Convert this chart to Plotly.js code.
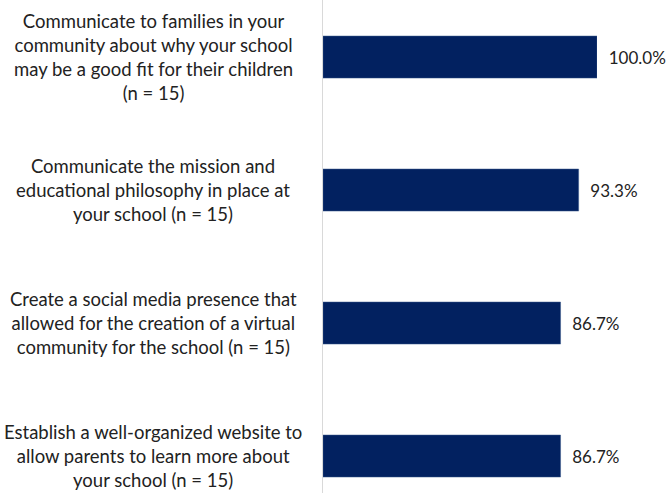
<!DOCTYPE html>
<html>
<head>
<meta charset="utf-8">
<script src="https://cdn.plot.ly/plotly-3.0.1.min.js"></script>
<style>html,body{margin:0;padding:0;background:#fff;}#chart{width:667px;height:493px;}</style>
</head>
<body>
<div id="chart"></div>
<script>
var categories = [
  "Communicate to families in your<br>community about why your school<br>may be a good fit for their children<br>(n = 15)",
  "Communicate the mission and<br>educational philosophy in place at<br>your school (n = 15)",
  "Create a social media presence that<br>allowed for the creation of a virtual<br>community for the school (n = 15)",
  "Establish a well-organized website to<br>allow parents to learn more about<br>your school (n = 15)"
];
var values = [100.0, 93.3, 86.7, 86.7];
var valueLabels = ["100.0%", "93.3%", "86.7%", "86.7%"];

var FONT = "Lato, 'Open Sans', sans-serif";
var trace = {
  type: 'bar',
  orientation: 'h',
  y: categories,
  x: values,
  width: 0.316,
  marker: {color: '#022160', line: {color: '#3a5a8c', width: 0.5}},
  text: valueLabels.map(function(t){return '  ' + t;}),
  textposition: 'outside',
  textfont: {family: FONT, size: 17, color: '#222'},
  cliponaxis: false,
  hoverinfo: 'none'
};

var annotations = categories.map(function(c){
  return {
    xref: 'paper', yref: 'y', x: -0.62, y: c,
    text: c, showarrow: false, xanchor: 'center', yanchor: 'middle',
    align: 'center',
    font: {family: FONT, size: 18.5, color: '#222'}
  };
});

var layout = {
  width: 667, height: 493,
  margin: {l: 323, r: 70, t: 0, b: 0, pad: 0},
  paper_bgcolor: '#fff', plot_bgcolor: '#fff',
  showlegend: false,
  xaxis: {range: [0, 100], visible: false, fixedrange: true},
  yaxis: {
    type: 'category',
    range: [3.278, -0.429],
    showticklabels: false, ticks: '',
    showgrid: false, zeroline: false,
    showline: true, linecolor: '#d9d9d9', linewidth: 1.5
  },
  annotations: annotations
};

Plotly.newPlot('chart', [trace], layout, {displayModeBar: false, staticPlot: true});
</script>
</body>
</html>
